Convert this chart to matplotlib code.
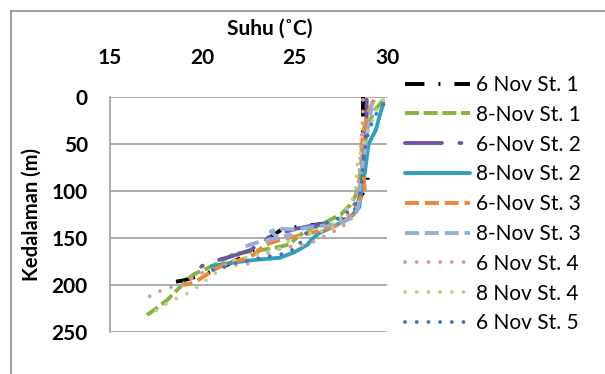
import matplotlib
matplotlib.use("Agg")
import matplotlib.pyplot as plt
from matplotlib.lines import Line2D

plt.rcParams['font.family'] = ['Lato', 'DejaVu Sans']

# ---------------- data ----------------
labels = ["6 Nov St. 1", "8-Nov St. 1", "6-Nov St. 2", "8-Nov St. 2", "6-Nov St. 3",
          "8-Nov St. 3", "6 Nov St. 4", "8 Nov St. 4", "6 Nov St. 5"]

d_s1 = [0, 20, 50, 75, 76, 95, 105, 120, 130, 135, 138, 141, 150, 165, 172, 179, 188, 195, 197]
t_s1 = [28.7, 28.7, 28.7, 28.8, 28.95, 28.95, 28.6, 28.3, 27.8, 26.5, 25.2, 24.3, 23.6, 22.6, 22.0, 21.3, 20.2, 19.0, 18.4]

d_s2 = [3, 15, 30, 50, 70, 90, 105, 115, 125, 135, 142, 150, 157, 161, 163, 167, 175, 181, 189, 202, 216, 225, 232]
t_s2 = [29.8, 29.3, 29.0, 28.8, 28.6, 28.5, 28.3, 28.0, 27.5, 26.5, 25.6, 25.1, 24.7, 23.8, 23.1, 21.7, 21.0, 20.4, 19.5, 18.8, 18.1, 17.5, 17.0]

d_s3 = [3, 20, 50, 80, 100, 115, 125, 133, 140, 145, 150, 157, 163, 170, 177, 181]
t_s3 = [28.9, 28.9, 28.8, 28.7, 28.6, 28.4, 28.1, 27.0, 25.1, 24.2, 23.5, 23.0, 22.6, 21.5, 20.2, 19.9]

d_s4 = [7, 20, 35, 50, 80, 100, 117, 128, 138, 145, 152, 157, 165, 171, 173, 176, 180]
t_s4 = [29.8, 29.6, 29.4, 29.0, 28.8, 28.6, 28.5, 28.0, 27.1, 26.3, 25.9, 25.7, 25.0, 24.2, 23.0, 21.7, 20.5]

d_s5 = [3, 15, 38, 60, 80, 99, 110, 125, 135, 141, 145, 152, 158, 165, 171, 176, 182, 192, 197, 200]
t_s5 = [29.3, 29.0, 28.7, 28.6, 28.7, 28.8, 28.5, 28.2, 27.5, 26.6, 25.8, 24.2, 23.3, 23.0, 22.5, 21.5, 20.8, 20.0, 19.6, 19.0]

d_s6 = [5, 20, 40, 60, 80, 100, 110, 120, 128, 135, 139, 141, 140, 143, 148, 147, 149, 151, 154, 157, 160]
t_s6 = [29.2, 29.1, 28.9, 28.8, 28.6, 28.5, 28.5, 28.4, 28.2, 27.3, 25.7, 25.0, 24.2, 23.7, 24.0, 24.8, 24.5, 23.8, 23.1, 22.6, 22.2]

d_s7 = [3, 20, 50, 80, 100, 115, 128, 135, 139, 143, 150, 157, 160, 164, 170, 177, 179, 184, 190, 200, 203, 209, 215, 219]
t_s7 = [28.7, 28.7, 28.6, 28.5, 28.4, 28.2, 27.8, 27.7, 27.6, 27.1, 26.4, 25.7, 24.5, 23.8, 23.1, 22.6, 21.7, 20.4, 19.6, 19.0, 18.1, 17.4, 16.9, 16.8]

d_s8 = [3, 15, 40, 70, 100, 115, 125, 135, 140, 147, 154, 160, 170, 175, 186, 198, 208, 216, 225, 235]
t_s8 = [29.8, 29.4, 28.9, 28.4, 28.3, 28.0, 27.6, 27.3, 27.0, 25.5, 24.6, 24.4, 22.5, 21.5, 20.8, 20.0, 19.3, 18.4, 17.6, 17.1]

d_s9 = [8, 21, 44, 70, 100, 117, 128, 134, 140, 143, 152, 157, 166, 170, 177, 182, 185]
t_s9 = [29.8, 29.3, 28.9, 28.7, 28.6, 28.2, 27.5, 26.7, 25.9, 25.7, 25.3, 25.3, 24.6, 23.5, 21.7, 21.0, 20.4]

x_ticks = [15, 20, 25, 30]
y_ticks = [0, 50, 100, 150, 200, 250]

series = [(t_s1, d_s1), (t_s2, d_s2), (t_s3, d_s3), (t_s4, d_s4), (t_s5, d_s5),
          (t_s6, d_s6), (t_s7, d_s7), (t_s8, d_s8), (t_s9, d_s9)]

# ---------------- styles ----------------
colors = ["#000000", "#86B23E", "#7254A2", "#2FA0BA", "#EE8634",
          "#93B1D8", "#DB9A97", "#B6D38E", "#3E76BC"]
dashes = [(5.0, 3.6, 0.5, 3.6), (3.6, 1.2), (9.5, 4.5, 0.5, 4.5), None, (3.6, 1.5),
          (3.6, 1.5), (0.01, 3.0), (0.01, 3.0), (0.01, 3.0)]
caps = ["butt", "butt", "round", "round", "butt", "butt", "round", "round", "round"]

fig = plt.figure(figsize=(6.05, 3.74), dpi=100)
ax = fig.add_axes([110/605, 1-332/374, (387-110)/605, (332-97)/374])

handles = []
for (t, d), c, ds, cap, lab in zip(series, colors, dashes, caps, labels):
    kw = dict(color=c, lw=2.8, solid_capstyle="round", dash_capstyle=cap, label=lab)
    if ds is not None:
        kw["dashes"] = ds
    ln, = ax.plot(t, d, **kw)
    handles.append(ln)

ax.set_xlim(15, 30)
ax.set_ylim(250, 0)
ax.set_xticks(x_ticks)
ax.set_yticks(y_ticks)
ax.xaxis.tick_top()
ax.tick_params(axis="x", length=0, pad=21, labelsize=15)
ax.tick_params(axis="y", length=0, pad=16, labelsize=15)
for lab in ax.get_xticklabels() + ax.get_yticklabels():
    lab.set_fontweight("bold")
ax.grid(axis="y", color="#A6A6A6", lw=1.3)
ax.set_axisbelow(True)
for s in ["top", "right", "bottom"]:
    ax.spines[s].set_visible(False)
ax.spines["left"].set_color("#A6A6A6")
ax.spines["left"].set_linewidth(1.3)

ax.set_ylabel("Kedalaman (m)", fontsize=14.5, fontweight="bold", labelpad=7)
fig.text(270/605, 1-29/374, "Suhu (˚C)", fontsize=15, fontweight="bold",
         ha="center", va="center")

fig.legend(handles=handles, loc="upper left", bbox_to_anchor=(405/605, 1-75/374),
           frameon=False, fontsize=15, handlelength=3.1, handletextpad=0.3,
           labelspacing=0.47, borderaxespad=0, borderpad=0)

# chart border (left and top visible)
fig.add_artist(Line2D([11.5/605, 11.5/605], [0, 1-10.5/374], transform=fig.transFigure,
                      color="#8C8C8C", lw=1.2))
fig.add_artist(Line2D([11.5/605, 1], [1-10.5/374, 1-10.5/374], transform=fig.transFigure,
                      color="#8C8C8C", lw=1.2))

fig.savefig("out.png", dpi=100)
